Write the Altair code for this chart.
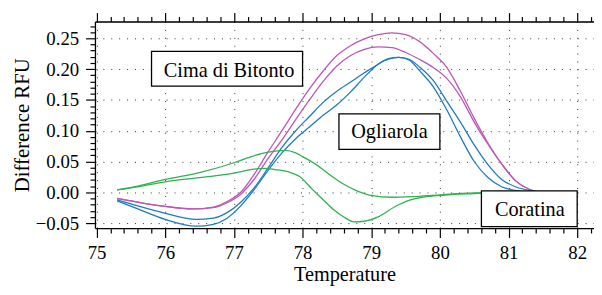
import altair as alt
import pandas as pd

# ---------------- data ----------------
mag1_x = [75.3, 75.6, 76.0, 76.4, 76.7, 76.9, 77.1, 77.3, 77.5, 77.7, 77.9, 78.1, 78.3, 78.5, 78.7, 78.9,
          79.1, 79.3, 79.5, 79.7, 79.9, 80.1, 80.3, 80.5, 80.7, 80.9, 81.1, 81.3, 81.5, 82.0]
mag1_y = [-0.010, -0.016, -0.023, -0.027, -0.024, -0.015, 0.000, 0.030, 0.066, 0.100, 0.135, 0.168, 0.197,
          0.222, 0.238, 0.249, 0.256, 0.259, 0.256, 0.245, 0.226, 0.203, 0.164, 0.120, 0.080, 0.046, 0.019,
          0.005, 0.000, 0.000]

mag2_x = mag1_x
mag2_y = [-0.010, -0.016, -0.023, -0.027, -0.025, -0.017, -0.003, 0.022, 0.055, 0.085, 0.118, 0.150, 0.180,
          0.205, 0.222, 0.232, 0.236, 0.235, 0.227, 0.216, 0.203, 0.185, 0.155, 0.114, 0.078, 0.046, 0.019,
          0.005, 0.000, 0.000]

blueA_x = [75.3, 75.6, 76.0, 76.45, 76.7, 76.9, 77.1, 77.3, 77.5, 77.7, 77.9, 78.1, 78.3, 78.5, 78.7, 78.9,
           79.1, 79.25, 79.4, 79.55, 79.7, 79.9, 80.1, 80.3, 80.5, 80.7, 80.9, 81.1, 81.3, 82.0]
blueA_y = [-0.012, -0.022, -0.034, -0.044, -0.042, -0.033, -0.016, 0.008, 0.040, 0.073, 0.100, 0.123, 0.146,
           0.164, 0.179, 0.194, 0.208, 0.216, 0.219, 0.215, 0.198, 0.172, 0.134, 0.090, 0.050, 0.024, 0.009,
           0.003, 0.000, 0.000]

blueB_x = [75.3, 75.6, 76.0, 76.45, 76.7, 76.9, 77.1, 77.3, 77.5, 77.7, 77.9, 78.1, 78.3, 78.5, 78.7, 78.9,
           79.1, 79.25, 79.4, 79.55, 79.7, 79.9, 80.1, 80.3, 80.5, 80.7, 80.9, 81.1, 81.3, 81.5, 82.0]
blueB_y = [-0.014, -0.027, -0.044, -0.055, -0.052, -0.042, -0.022, 0.005, 0.036, 0.064, 0.087, 0.106, 0.125,
           0.142, 0.163, 0.187, 0.208, 0.217, 0.219, 0.216, 0.204, 0.182, 0.148, 0.114, 0.077, 0.045, 0.021,
           0.009, 0.003, 0.000, 0.000]

greenU_x = [75.3, 75.6, 76.0, 76.5, 77.0, 77.2, 77.4, 77.6, 77.75, 77.9, 78.0, 78.2, 78.4, 78.6, 78.8, 79.0,
            79.3, 79.6, 80.0, 80.5, 81.0, 82.0]
greenU_y = [0.004, 0.010, 0.021, 0.032, 0.048, 0.056, 0.063, 0.067, 0.068, 0.064, 0.058, 0.045, 0.028, 0.013,
            0.002, -0.005, -0.008, -0.007, -0.004, -0.001, 0.000, 0.000]

greenL_x = [75.3, 75.6, 76.0, 76.5, 77.0, 77.2, 77.45, 77.6, 77.8, 77.95, 78.15, 78.3, 78.45, 78.6, 78.75,
            78.9, 79.1, 79.35, 79.55, 79.75, 80.0, 80.5, 81.0, 82.0]
greenL_y = [0.004, 0.009, 0.017, 0.024, 0.031, 0.036, 0.039, 0.037, 0.033, 0.026, 0.004, -0.012, -0.028,
            -0.040, -0.048, -0.047, -0.040, -0.023, -0.013, -0.008, -0.005, -0.002, 0.000, 0.000]

series = [
    ("m1", "Cima di Bitonto", mag1_x, mag1_y),
    ("m2", "Cima di Bitonto", mag2_x, mag2_y),
    ("b1", "Ogliarola", blueA_x, blueA_y),
    ("b2", "Ogliarola", blueB_x, blueB_y),
    ("g1", "Coratina", greenU_x, greenU_y),
    ("g2", "Coratina", greenL_x, greenL_y),
]

groups = ["Cima di Bitonto", "Ogliarola", "Coratina"]
group_colors = ["#bd56b6", "#1f7bbf", "#2fb24f"]

x_major = [75, 76, 77, 78, 79, 80, 81, 82]
y_major = [-0.05, 0.0, 0.05, 0.10, 0.15, 0.20, 0.25]
x_minor = [round(75 + 0.2 * i, 1) for i in range(37) if i % 5 != 0]
y_minor = [round(-0.05 + 0.01 * i, 2) for i in range(33) if i % 5 != 0]

# annotation boxes (data coordinates)
ann_label = ["Cima di Bitonto", "Ogliarola", "Coratina"]
ann_tx = [76.93, 79.265, 81.31]
ann_ty = [0.1878, 0.0884, -0.0386]
ann_x1 = [75.80, 78.53, 80.605]
ann_x2 = [78.00, 80.00, 82.00]
ann_y1 = [0.2288, 0.1275, 0.0025]
ann_y2 = [0.1725, 0.0696, -0.0558]

rows = []
for sid, grp, xs_, ys_ in series:
    for a, b in zip(xs_, ys_):
        rows.append({"x": a, "y": b, "series": sid, "group": grp})
df = pd.DataFrame(rows)

ann = pd.DataFrame({"label": ann_label, "tx": ann_tx, "ty": ann_ty,
                    "x1": ann_x1, "x2": ann_x2, "y1": ann_y1, "y2": ann_y2})

FONT = "Liberation Serif, Times New Roman, serif"
xs = alt.Scale(domain=[74.976, 82.245], nice=False, zero=False)
ys = alt.Scale(domain=[-0.058, 0.2773], nice=False, zero=False)

common = dict(domainColor="black", domainWidth=1.3, tickColor="black", tickWidth=1.2)

ax_bottom = alt.Axis(orient="bottom", values=x_major, format="d", tickSize=9.5, labelPadding=21,
                     labelBaseline="alphabetic", labelFont=FONT, labelFontSize=19, labelColor="black",
                     grid=True, gridDash=[1, 7], gridColor="#333", gridWidth=1,
                     title="Temperature", titleFont=FONT, titleFontSize=20.5, titleFontWeight="normal",
                     titleColor="black", titleBaseline="alphabetic", titleX=252.5, titleY=53.5,
                     labelFlush=False, **common)
ax_left = alt.Axis(orient="left", values=y_major, format=".2f", tickSize=9.5, labelPadding=7,
                   labelFont=FONT, labelFontSize=19, labelColor="black",
                   grid=True, gridDash=[1, 7], gridColor="#333", gridWidth=1,
                   title="Difference RFU", titleFont=FONT, titleFontSize=21, titleFontWeight="normal",
                   titleColor="black", titleBaseline="alphabetic", titleAngle=-90,
                   titleX=-67.5, titleY=104.5, labelFlush=False, **common)
ax_bottom_minor = alt.Axis(orient="bottom", values=x_minor, tickSize=5, labels=False, grid=False,
                           domain=False, title=None, tickColor="black", tickWidth=1.2)
ax_left_minor = alt.Axis(orient="left", values=y_minor, tickSize=5, labels=False, grid=False,
                         domain=False, title=None, tickColor="black", tickWidth=1.2)
ax_top = alt.Axis(orient="top", values=x_major, tickSize=9, labels=False, grid=False,
                  title=None, **common)
ax_top_minor = alt.Axis(orient="top", values=x_minor, tickSize=5, labels=False, grid=False,
                        domain=False, title=None, tickColor="black", tickWidth=1.2)

base = alt.Chart(df)

lines = base.mark_line(strokeWidth=1.3, interpolate="monotone").encode(
    x=alt.X("x:Q", scale=xs, axis=ax_bottom),
    y=alt.Y("y:Q", scale=ys, axis=ax_left),
    color=alt.Color("group:N", scale=alt.Scale(domain=groups, range=group_colors), legend=None),
    detail="series:N",
)

minor = base.mark_line(opacity=0).encode(
    x=alt.X("x:Q", scale=xs, axis=ax_bottom_minor),
    y=alt.Y("y:Q", scale=ys, axis=ax_left_minor),
    detail="series:N",
)

top = base.mark_line(opacity=0).encode(
    x=alt.X("x:Q", scale=xs, axis=ax_top),
    y=alt.Y("y:Q", scale=ys, axis=None),
    detail="series:N",
)

top_minor = base.mark_line(opacity=0).encode(
    x=alt.X("x:Q", scale=xs, axis=ax_top_minor),
    y=alt.Y("y:Q", scale=ys, axis=None),
    detail="series:N",
)

boxes = alt.Chart(ann).mark_rect(fill="white", stroke="black", strokeWidth=1.3).encode(
    x=alt.X("x1:Q", scale=xs, axis=None), x2="x2:Q",
    y=alt.Y("y1:Q", scale=ys, axis=None), y2="y2:Q",
)

texts = alt.Chart(ann).mark_text(font=FONT, fontSize=20.5, baseline="alphabetic", align="center",
                                 color="black").encode(
    x=alt.X("tx:Q", scale=xs, axis=None),
    y=alt.Y("ty:Q", scale=ys, axis=None),
    text="label:N",
)

chart = alt.layer(lines, minor, top, top_minor, boxes, texts).resolve_axis(
    x="independent", y="independent"
).properties(
    width=505, height=209,
    autosize=alt.AutoSizeParams(type="none"),
    padding={"left": 88, "top": 12, "right": 0, "bottom": 58},
    background="white",
).configure_view(strokeWidth=0).configure(font=FONT)

chart.save("out.html", embed_options={"renderer": "svg", "actions": False})
